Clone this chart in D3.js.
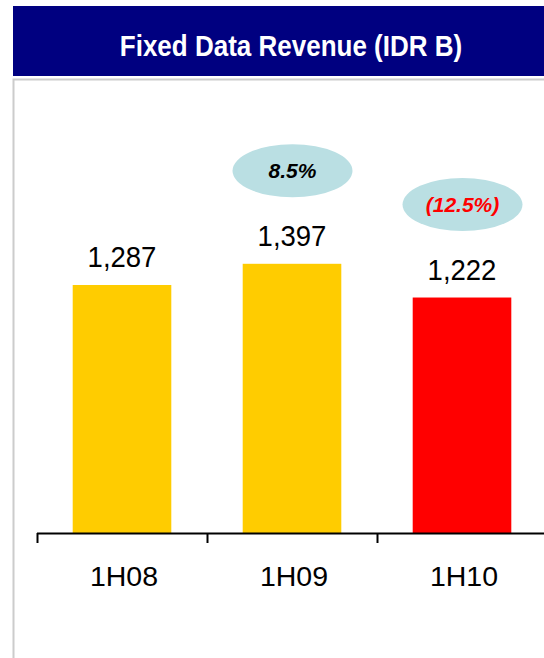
<!DOCTYPE html>
<html>
<head>
<meta charset="utf-8">
<script src="https://cdn.jsdelivr.net/npm/d3@7"></script>
<style>
  html, body { margin: 0; padding: 0; background: #ffffff; }
  svg { display: block; font-family: Arial, "Liberation Sans", Helvetica, sans-serif; }
</style>
</head>
<body>
<svg id="chart" width="544" height="658"></svg>
<script>
// Fixed data revenue by half-year, IDR billions
const periods = ["1H08", "1H09", "1H10"];
const revenue = [1287, 1397, 1222];
const barColors = ["#ffcc00", "#ffcc00", "#ff0000"];

// Year-on-year growth callouts shown above the later bars
const growthPeriods = ["1H09", "1H10"];
const growthLabels = ["8.5%", "(12.5%)"];
const growthColors = ["#000000", "#ff0000"];

const title = "Fixed Data Revenue (IDR B)";

const svg = d3.select("#chart");
const W = 544, H = 658;

// Text drawn slightly taller than wide, as in the slide's typography
function tallText(sel, x, y, sy) {
  return sel.attr("transform", `translate(${x},${y}) scale(1,${sy})`);
}

// Header banner
svg.append("rect")
  .attr("x", 13).attr("y", 6)
  .attr("width", W - 13).attr("height", 70)
  .attr("fill", "#000080");
svg.append("text")
  .call(tallText, 291, 56, 1.1)
  .attr("text-anchor", "middle")
  .attr("font-size", 26).attr("font-weight", "bold")
  .attr("fill", "#ffffff")
  .text(title);

// Light grey panel frame
svg.append("path")
  .attr("d", `M${W},79.5 H13.5 V${H}`)
  .attr("fill", "none")
  .attr("stroke", "#cccccc")
  .attr("stroke-width", 2);

// Scales
const x = d3.scaleBand()
  .domain(periods)
  .range([37, 547])
  .paddingInner(0.42)
  .paddingOuter(0.21);

const baseY = 533;
const y = d3.scaleLinear()
  .domain([0, 1400])
  .range([baseY, baseY - 1400 * 0.1927]);

const rows = periods.map((p, i) => ({ p, v: revenue[i], c: barColors[i] }));
const cx = p => x(p) + x.bandwidth() / 2;

// Bars
svg.append("g").selectAll("rect")
  .data(rows)
  .join("rect")
  .attr("x", d => x(d.p))
  .attr("y", d => y(d.v))
  .attr("width", x.bandwidth())
  .attr("height", d => y(0) - y(d.v))
  .attr("fill", d => d.c);

// Value labels
svg.append("g").selectAll("text")
  .data(rows)
  .join("text")
  .each(function (d) { tallText(d3.select(this), cx(d.p), y(d.v) - 18, 1.08); })
  .attr("text-anchor", "middle")
  .attr("font-size", 27.5)
  .attr("fill", "#000000")
  .text(d => d3.format(",")(d.v));

// Category axis with ticks on band boundaries
const axisG = svg.append("g");
axisG.append("line")
  .attr("x1", 37).attr("x2", W)
  .attr("y1", baseY + 0.5).attr("y2", baseY + 0.5)
  .attr("stroke", "#000000").attr("stroke-width", 2);
const tickXs = periods.map((p, i) => x.range()[0] + i * x.step());
axisG.selectAll("line.tick")
  .data(tickXs)
  .join("line")
  .attr("class", "tick")
  .attr("x1", d => d + 0.5).attr("x2", d => d + 0.5)
  .attr("y1", baseY).attr("y2", baseY + 10)
  .attr("stroke", "#000000").attr("stroke-width", 2);
axisG.selectAll("text")
  .data(periods)
  .join("text")
  .attr("x", d => cx(d) + 2)
  .attr("y", 586)
  .attr("text-anchor", "middle")
  .attr("font-size", 28.5)
  .attr("fill", "#000000")
  .text(d => d);

// Growth callout ellipses
const callouts = growthPeriods.map((p, i) => ({
  p, label: growthLabels[i], color: growthColors[i],
  v: revenue[periods.indexOf(p)]
}));
const cg = svg.append("g").selectAll("g")
  .data(callouts)
  .join("g")
  .attr("transform", d => `translate(${cx(d.p) + 0.5},${y(d.v) - 93})`);
cg.append("ellipse")
  .attr("rx", 60).attr("ry", 26.5)
  .attr("fill", "#badfe3");
cg.append("text")
  .attr("y", 7.5)
  .attr("text-anchor", "middle")
  .attr("font-size", 21)
  .attr("font-weight", "bold")
  .attr("font-style", "italic")
  .attr("fill", d => d.color)
  .text(d => d.label);
</script>
</body>
</html>
